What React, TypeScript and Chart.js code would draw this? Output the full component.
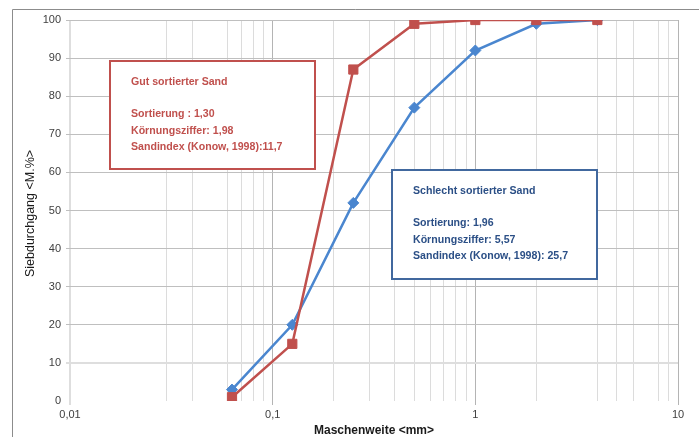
import React, { useEffect, useRef } from 'react';
import { Chart, registerables } from 'chart.js';

Chart.register(...registerables);

// ---- data ----
const SIEVE_SIZES_MM = [0.063, 0.125, 0.25, 0.5, 1, 2, 4];
const GOOD_SAND = [1, 15, 87, 99, 100, 100, 100];
const POOR_SAND = [3, 20, 52, 77, 92, 99, 100];

const X_MAJOR_TICKS = [0.01, 0.1, 1, 10];
const X_TICK_LABELS = ['0,01', '0,1', '1', '10'];
const X_MINOR_MULTIPLIERS = [2, 3, 4, 5, 6, 7, 8, 9];
const X_HIDDEN_MINOR = [0.02, 0.05, 3, 7];

const Y_MIN = 0;
const Y_MAX = 100;
const Y_STEP = 10;

const X_TITLE = 'Maschenweite <mm>';
const Y_TITLE = 'Siebdurchgang <M.%>';

const GOOD_LABEL = [
  'Gut sortierter Sand',
  '',
  'Sortierung : 1,30',
  'Körnungsziffer: 1,98',
  'Sandindex (Konow, 1998):11,7',
];
const POOR_LABEL = [
  'Schlecht sortierter Sand',
  '',
  'Sortierung: 1,96',
  'Körnungsziffer: 5,57',
  'Sandindex (Konow, 1998): 25,7',
];

// ---- styles ----
const RED = '#c0504d';
const BLUE = '#4a86cf';
const BLUE_TEXT = '#2b4f86';
const BLUE_BOX = '#41689e';
const FONT = '"Liberation Sans", Arial, sans-serif';

const near = (a: number, b: number) => Math.abs(a - b) < 1e-9 * Math.max(1, Math.abs(b));

function buildXTicks(): number[] {
  const out: number[] = [];
  for (let i = 0; i < X_MAJOR_TICKS.length; i++) {
    const base = X_MAJOR_TICKS[i];
    out.push(base);
    if (i < X_MAJOR_TICKS.length - 1) {
      for (const m of X_MINOR_MULTIPLIERS) out.push(parseFloat((base * m).toPrecision(6)));
    }
  }
  return out;
}

const decorPlugin = {
  id: 'decor',
  afterDraw(chart: any) {
    const ctx = chart.ctx as CanvasRenderingContext2D;
    const { chartArea } = chart;
    ctx.save();

    // outer frame
    ctx.strokeStyle = '#8c8c8c';
    ctx.lineWidth = 1;
    ctx.beginPath();
    ctx.moveTo(12.5, 437);
    ctx.lineTo(12.5, 9.5);
    ctx.lineTo(699, 9.5);
    ctx.stroke();

    // axis titles
    ctx.fillStyle = '#1a1a1a';
    ctx.textAlign = 'center';
    ctx.textBaseline = 'middle';
    ctx.font = `bold 12px ${FONT}`;
    ctx.fillText(X_TITLE, (chartArea.left + chartArea.right) / 2, 431);
    ctx.save();
    ctx.translate(31, (chartArea.top + chartArea.bottom) / 2 + 3);
    ctx.rotate(-Math.PI / 2);
    ctx.font = `12.5px ${FONT}`;
    ctx.fillText(Y_TITLE, 0, 0);
    ctx.restore();

    const drawBox = (x: number, y: number, w: number, h: number, border: string, color: string, lines: string[]) => {
      ctx.fillStyle = '#ffffff';
      ctx.fillRect(x, y, w, h);
      ctx.strokeStyle = border;
      ctx.lineWidth = 2;
      ctx.strokeRect(x, y, w, h);
      ctx.fillStyle = color;
      ctx.font = `bold 10.6px ${FONT}`;
      ctx.textAlign = 'left';
      ctx.textBaseline = 'middle';
      lines.forEach((t, i) => {
        if (t) ctx.fillText(t, x + 21, y + 21 + i * 16.2);
      });
    };
    drawBox(110, 61, 205, 108, RED, RED, GOOD_LABEL);
    drawBox(392, 170, 205, 109, BLUE_BOX, BLUE_TEXT, POOR_LABEL);

    ctx.restore();
  },
};

export default function App() {
  const ref = useRef<HTMLCanvasElement | null>(null);

  useEffect(() => {
    if (!ref.current) return;
    const xTicks = buildXTicks();
    const isMajor = (v: number) => X_MAJOR_TICKS.some((m) => near(v, m));
    const isHidden = (v: number) => X_HIDDEN_MINOR.some((m) => near(v, m));

    const chart = new Chart(ref.current, {
      type: 'scatter',
      data: {
        datasets: [
          {
            label: 'Gut sortierter Sand',
            data: SIEVE_SIZES_MM.map((x, i) => ({ x, y: GOOD_SAND[i] })),
            showLine: true,
            borderColor: RED,
            backgroundColor: RED,
            borderWidth: 2.5,
            pointStyle: 'rect',
            pointRadius: 6.5,
            pointBorderWidth: 1,
            pointBorderColor: RED,
            pointBackgroundColor: RED,
          },
          {
            label: 'Schlecht sortierter Sand',
            data: SIEVE_SIZES_MM.map((x, i) => ({ x, y: POOR_SAND[i] })),
            showLine: true,
            borderColor: BLUE,
            backgroundColor: BLUE,
            borderWidth: 2.5,
            pointStyle: 'rectRot',
            pointRadius: 5.5,
            pointBorderWidth: 1,
            pointBorderColor: BLUE,
            pointBackgroundColor: BLUE,
          },
        ],
      },
      options: {
        responsive: false,
        animation: false,
        devicePixelRatio: 1,
        layout: { padding: { top: 20, right: 21, left: 0, bottom: 0 } },
        plugins: {
          legend: { display: false },
          tooltip: { enabled: false },
        },
        scales: {
          x: {
            type: 'logarithmic',
            min: 0.01,
            max: 10,
            afterBuildTicks: (scale: any) => {
              scale.ticks = xTicks.map((v) => ({ value: v }));
            },
            afterFit: (scale: any) => {
              scale.height = 36;
            },
            border: { display: false },
            grid: {
              color: (c: any) => {
                const v = c.tick ? c.tick.value : 0;
                if (near(v, 0.01)) return '#dedede';
                if (isMajor(v)) return '#b4b4b4';
                if (isHidden(v)) return 'rgba(0,0,0,0)';
                return '#dcdcdc';
              },
              lineWidth: (c: any) => {
                const v = c.tick ? c.tick.value : 0;
                return near(v, 0.01) ? 2 : 1;
              },
              tickColor: (c: any) => {
                const v = c.tick ? c.tick.value : 0;
                if (near(v, 0.01)) return '#dedede';
                return isMajor(v) ? '#b4b4b4' : 'rgba(0,0,0,0)';
              },
              tickLength: 4,
            },
            ticks: {
              autoSkip: false,
              maxRotation: 0,
              minRotation: 0,
              padding: 3,
              color: '#404040',
              font: { family: FONT, size: 11 },
              callback: (value: any) => {
                const idx = X_MAJOR_TICKS.findIndex((m) => near(Number(value), m));
                return idx >= 0 ? X_TICK_LABELS[idx] : '';
              },
            },
          },
          y: {
            type: 'linear',
            min: Y_MIN,
            max: Y_MAX,
            afterFit: (scale: any) => {
              scale.width = 70;
            },
            border: { display: false },
            grid: {
              color: (c: any) => {
                const v = c.tick ? c.tick.value : 0;
                if (v === 0) return 'rgba(0,0,0,0)';
                if (v === 10) return '#dedede';
                return '#bfbfbf';
              },
              lineWidth: (c: any) => (c.tick && c.tick.value === 10 ? 2 : 1),
              tickColor: (c: any) => {
                const v = c.tick ? c.tick.value : 0;
                if (v === 0) return 'rgba(0,0,0,0)';
                if (v === 10) return '#dedede';
                return '#bfbfbf';
              },
              tickLength: 4,
            },
            ticks: {
              stepSize: Y_STEP,
              padding: 5,
              color: '#404040',
              font: { family: FONT, size: 11 },
            },
          },
        },
      },
      plugins: [decorPlugin],
    } as any);

    return () => chart.destroy();
  }, []);

  return (
    <div style={{ position: 'absolute', left: 0, top: 0, width: 699, height: 437, background: '#fff' }}>
      <canvas ref={ref} width={699} height={437} style={{ width: 699, height: 437, display: 'block' }} />
    </div>
  );
}
